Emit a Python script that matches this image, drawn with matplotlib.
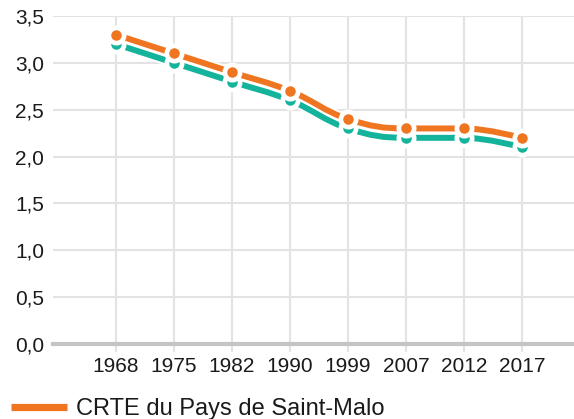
import matplotlib
matplotlib.use("Agg")
import matplotlib.pyplot as plt
from matplotlib.path import Path
from matplotlib.patches import PathPatch
from matplotlib.lines import Line2D

years = ["1968", "1975", "1982", "1990", "1999", "2007", "2012", "2017"]
crte_values = [3.3, 3.1, 2.9, 2.7, 2.4, 2.3, 2.3, 2.2]
other_values = [3.2, 3.0, 2.8, 2.6, 2.3, 2.2, 2.2, 2.1]
yticks = [0.0, 0.5, 1.0, 1.5, 2.0, 2.5, 3.0, 3.5]
legend_label = "CRTE du Pays de Saint-Malo"

ORANGE = "#ef7521"
TEAL = "#14b39b"
GRID = "#e3e3e3"

plt.rcParams['font.family'] = ['Liberation Sans', 'DejaVu Sans']

W, H = 574, 419
fig = plt.figure(figsize=(W / 100, H / 100), dpi=100)
ax = fig.add_axes([53 / W, (H - 344) / H, (574 - 53) / W, (344 - 16) / H])

xs = list(range(len(years)))


def spline_path(x, y, smoothing=1.5):
    denom = smoothing + 1
    n = len(x)
    left = [None] * n
    right = [None] * n
    for i in range(n):
        if 0 < i < n - 1:
            lcx = (smoothing * x[i] + x[i - 1]) / denom
            lcy = (smoothing * y[i] + y[i - 1]) / denom
            rcx = (smoothing * x[i] + x[i + 1]) / denom
            rcy = (smoothing * y[i] + y[i + 1]) / denom
            if rcx != lcx:
                corr = ((rcy - lcy) * (rcx - x[i])) / (rcx - lcx) + y[i] - rcy
                lcy += corr
                rcy += corr
            if lcy > y[i - 1] and lcy > y[i]:
                lcy = max(y[i - 1], y[i]); rcy = 2 * y[i] - lcy
            elif lcy < y[i - 1] and lcy < y[i]:
                lcy = min(y[i - 1], y[i]); rcy = 2 * y[i] - lcy
            if rcy > y[i + 1] and rcy > y[i]:
                rcy = max(y[i + 1], y[i]); lcy = 2 * y[i] - rcy
            elif rcy < y[i + 1] and rcy < y[i]:
                rcy = min(y[i + 1], y[i]); lcy = 2 * y[i] - rcy
            left[i] = (lcx, lcy)
            right[i] = (rcx, rcy)
        else:
            left[i] = (x[i], y[i])
            right[i] = (x[i], y[i])
    verts = [(x[0], y[0])]
    codes = [Path.MOVETO]
    for i in range(1, n):
        verts += [right[i - 1], left[i], (x[i], y[i])]
        codes += [Path.CURVE4] * 3
    return Path(verts, codes)


def draw_series(vals, color, z):
    p = spline_path(xs, vals)
    ax.add_patch(PathPatch(p, facecolor="none", edgecolor="white", lw=7.0,
                           capstyle="butt", joinstyle="round", zorder=z, clip_on=False))
    ax.add_patch(PathPatch(p, facecolor="none", edgecolor=color, lw=4.3,
                           capstyle="butt", joinstyle="round", zorder=z + 0.1, clip_on=False))
    ax.plot(xs, vals, linestyle="none", marker="o", markersize=11.0,
            markerfacecolor=color, markeredgecolor="white", markeredgewidth=3.4,
            zorder=z + 0.2, clip_on=False)


draw_series(other_values, TEAL, 3)
draw_series(crte_values, ORANGE, 4)

ax.set_xlim((53 - 116) / 58, (574 - 116) / 58)
ax.set_ylim(0, 3.5)
ax.set_xticks(xs)
ax.set_xticklabels(years)
ax.set_yticks(yticks)
ax.set_yticklabels([f"{v:.1f}".replace(".", ",") for v in yticks])

ax.grid(True, color=GRID, lw=1.5, zorder=0)
ax.set_axisbelow(True)
for s in ax.spines.values():
    s.set_visible(False)
ax.axhline(0, color="#c4c4c4", lw=3.0, zorder=2, clip_on=False)

ax.tick_params(axis="x", length=6, width=1.5, color=GRID, pad=3,
               labelsize=15, labelcolor="#1a1a1a")
ax.tick_params(axis="y", length=0, pad=6.5, labelsize=15, labelcolor="#1a1a1a")

fig.add_artist(Line2D([11 / W, 67 / W], [(H - 407) / H, (H - 407) / H],
                      color=ORANGE, lw=5.2, solid_capstyle="butt"))
fig.text(76 / W, (H - 415) / H, legend_label, fontsize=17, color="#1a1a1a",
         ha="left", va="baseline")

fig.savefig("out.png", dpi=100)
